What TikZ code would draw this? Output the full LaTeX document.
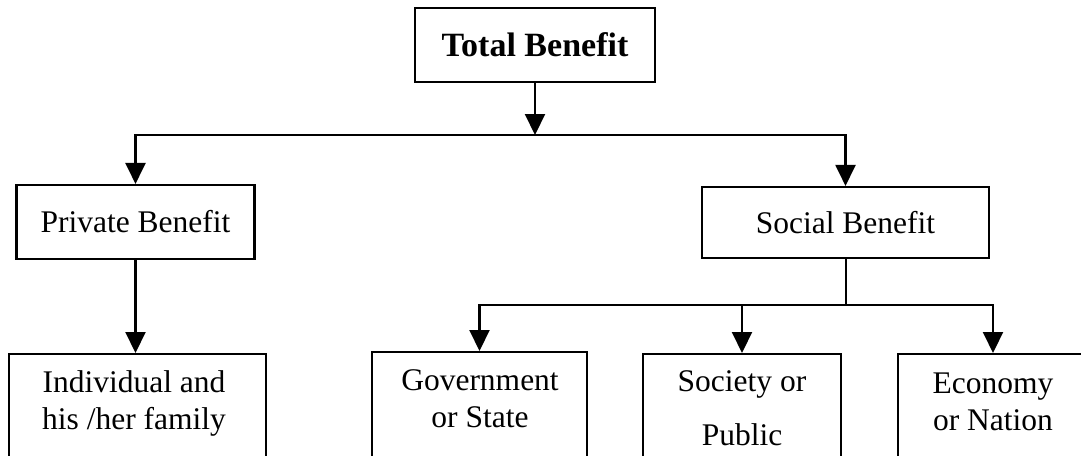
\documentclass[tikz,border=0pt]{standalone}
\usepackage{fontspec}
\setmainfont{Liberation Serif}
\usetikzlibrary{arrows.meta}
\begin{document}
\begin{tikzpicture}[x=1pt,y=-1pt,
  box/.style={draw,line width=2.1pt,rectangle,inner sep=0pt},
  head/.style={font=\fontsize{34}{40}\selectfont\bfseries},
  mid/.style={font=\fontsize{31.5}{37}\selectfont},
  lbl/.style={font=\fontsize{31.5}{37}\selectfont,anchor=base,inner sep=0pt},
  wire/.style={line width=2.1pt},
  arr/.style={line width=2.1pt,-{Triangle[width=20pt,length=21pt]}}]
\useasboundingbox (0,0) rectangle (1081,455);
\clip (0,0) rectangle (1081,455);

% top level
\node[box,head,minimum width=240pt,minimum height=74pt] (total) at (535,45) {Total Benefit};

% second level
\node[box,mid,minimum width=238pt,minimum height=74pt] (priv) at (135.5,222) {Private Benefit};
\node[box,mid,minimum width=287pt,minimum height=71pt] (social) at (845.5,222.5) {Social Benefit};

% third level (boxes run past the lower edge)
\node[box,minimum width=257pt,minimum height=130pt,anchor=north] (ind) at (137.5,353) {};
\node[box,minimum width=215pt,minimum height=130pt,anchor=north] (gov) at (479.5,351) {};
\node[box,minimum width=198pt,minimum height=130pt,anchor=north] (soc) at (742,353) {};
\node[box,minimum width=190pt,minimum height=130pt,anchor=north] (eco) at (993,353) {};

% texts of the third level
\node[lbl] (ind1) at (134,392) {Individual and};
\node[lbl] (ind2) at (134,429) {his /her family};
\node[lbl] (gov1) at (480,390) {Government};
\node[lbl] (gov2) at (480,427) {or State};
\node[lbl] (soc1) at (742,391) {Society or};
\node[lbl] (soc2) at (742,445) {Public};
\node[lbl] (eco1) at (993,393) {Economy};
\node[lbl] (eco2) at (993,430) {or Nation};

% junctions
\coordinate (j1) at (535,135);
\coordinate (j2) at (846,305);

% connectors
\draw[arr] (total.south) -- (j1);
\draw[arr] (j1) -| (priv.north);
\draw[arr] (j1) -| (social.north);
\draw[arr] (priv.south) -- (priv.south |- ind.north);
\draw[wire] (social.south -| j2) -- (j2);
\draw[arr] (j2) -| (gov.north);
\draw[arr] (j2) -| (eco.north);
\draw[arr] (soc.north |- j2) -- (soc.north);
\end{tikzpicture}
\end{document}
